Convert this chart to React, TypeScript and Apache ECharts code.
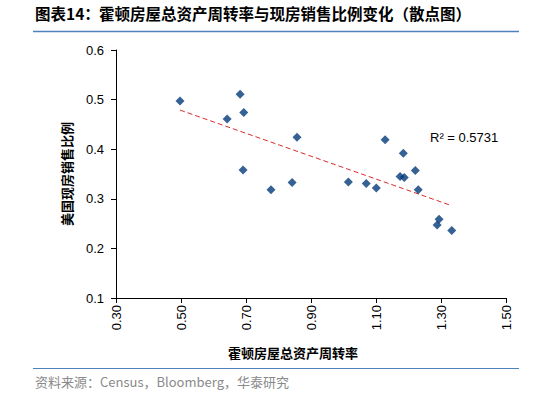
import React, { useEffect, useRef } from "react";
import * as echarts from "echarts";

const titlePrefix = "图表14：";
const titleText = "霍顿房屋总资产周转率与现房销售比例变化（散点图）";
const xAxisName = "霍顿房屋总资产周转率";
const yAxisName = "美国现房销售比例";
const sourceText = "资料来源：Census，Bloomberg，华泰研究";
const r2Text = "R² = 0.5731";

const turnover = [
  0.497, 0.682, 0.693, 0.642, 0.857, 0.691, 0.777, 0.842, 1.128, 1.184,
  1.015, 1.07, 1.101, 1.174, 1.187, 1.221, 1.23, 1.294, 1.288, 1.333,
];
const existingShare = [
  0.497, 0.511, 0.474, 0.461, 0.424, 0.358, 0.318, 0.333, 0.419, 0.392,
  0.334, 0.331, 0.322, 0.345, 0.343, 0.357, 0.318, 0.259, 0.247, 0.236,
];

const xMin = 0.3, xMax = 1.5, xStep = 0.2;
const yMin = 0.1, yMax = 0.6, yStep = 0.1;

function fitLine(xs: number[], ys: number[]) {
  const n = xs.length;
  const mx = xs.reduce((a, b) => a + b, 0) / n;
  const my = ys.reduce((a, b) => a + b, 0) / n;
  let sxy = 0, sxx = 0;
  for (let i = 0; i < n; i++) {
    sxy += (xs[i] - mx) * (ys[i] - my);
    sxx += (xs[i] - mx) * (xs[i] - mx);
  }
  const slope = sxy / sxx;
  const intercept = my - slope * mx;
  const lo = Math.min(...xs), hi = Math.max(...xs);
  return [
    [lo, intercept + slope * lo],
    [hi, intercept + slope * hi],
  ];
}

export default function App() {
  const ref = useRef<HTMLDivElement>(null);
  useEffect(() => {
    if (!ref.current) return;
    const chart = echarts.init(ref.current, null, { renderer: "svg" });
    const points = turnover.map((x, i) => [x, existingShare[i]]);
    const trend = fitLine(turnover, existingShare);
    const labelFont = "Liberation Sans, Arial, sans-serif";
    const cjkFont = "Noto Sans CJK SC, sans-serif";
    chart.setOption({
      animation: false,
      backgroundColor: "#fff",
      grid: { left: 116, top: 50, right: 28, bottom: 96, containLabel: false },
      xAxis: {
        type: "value",
        min: xMin,
        max: xMax,
        interval: xStep,
        axisLine: { show: true, onZero: false, lineStyle: { color: "#000", width: 1 } },
        axisTick: { show: true, inside: false, length: 5, lineStyle: { color: "#000" } },
        splitLine: { show: false },
        axisLabel: {
          rotate: 90,
          margin: 7,
          color: "#000",
          fontSize: 13,
          fontFamily: labelFont,
          formatter: (v: number) => v.toFixed(2),
        },
      },
      yAxis: {
        type: "value",
        min: yMin,
        max: yMax,
        interval: yStep,
        name: yAxisName,
        nameLocation: "middle",
        nameRotate: 90,
        nameGap: 43,
        nameTextStyle: { color: "#000", fontSize: 13, fontWeight: "bold", fontFamily: cjkFont },
        axisLine: { show: true, onZero: false, lineStyle: { color: "#000", width: 1 } },
        axisTick: { show: true, inside: false, length: 5, lineStyle: { color: "#000" } },
        splitLine: { show: false },
        axisLabel: {
          margin: 12,
          color: "#000",
          fontSize: 13,
          fontFamily: labelFont,
          formatter: (v: number) => v.toFixed(1),
        },
      },
      series: [
        {
          type: "line",
          data: trend,
          symbol: "none",
          lineStyle: { color: "#D92B2B", width: 1, type: [5, 3] },
          z: 1,
        },
        {
          type: "scatter",
          data: points,
          symbol: "diamond",
          symbolSize: 9,
          itemStyle: { color: "#033A7B" },
          z: 2,
        },
      ],
      graphic: [
        {
          type: "text",
          left: 35,
          top: 5,
          style: { text: titlePrefix, font: `bold 15.5px ${cjkFont}`, fill: "#000" },
        },
        {
          type: "text",
          left: 99,
          top: 5,
          style: { text: titleText, font: `bold 15.5px ${cjkFont}`, fill: "#000" },
        },
        {
          type: "line",
          shape: { x1: 33, y1: 31.5, x2: 519, y2: 31.5 },
          style: { stroke: "#4F81BD", lineWidth: 1.5 },
        },
        {
          type: "text",
          x: 430,
          y: 137,
          style: {
            text: r2Text,
            font: `13px ${labelFont}`,
            fill: "#000",
            textVerticalAlign: "middle",
          },
        },
        {
          type: "text",
          x: 293,
          y: 352,
          style: {
            text: xAxisName,
            font: `bold 13px ${cjkFont}`,
            fill: "#000",
            textAlign: "center",
            textVerticalAlign: "middle",
          },
        },
        {
          type: "line",
          shape: { x1: 33, y1: 368.5, x2: 519, y2: 368.5 },
          style: { stroke: "#4F81BD", lineWidth: 1 },
        },
        {
          type: "text",
          x: 35,
          y: 381,
          style: {
            text: sourceText,
            font: `13px ${cjkFont}`,
            fill: "#8A8A8A",
            textVerticalAlign: "middle",
          },
        },
      ],
    });
    return () => chart.dispose();
  }, []);
  return (
    <div
      ref={ref}
      style={{ position: "absolute", left: 0, top: 0, width: 534, height: 394 }}
    />
  );
}
